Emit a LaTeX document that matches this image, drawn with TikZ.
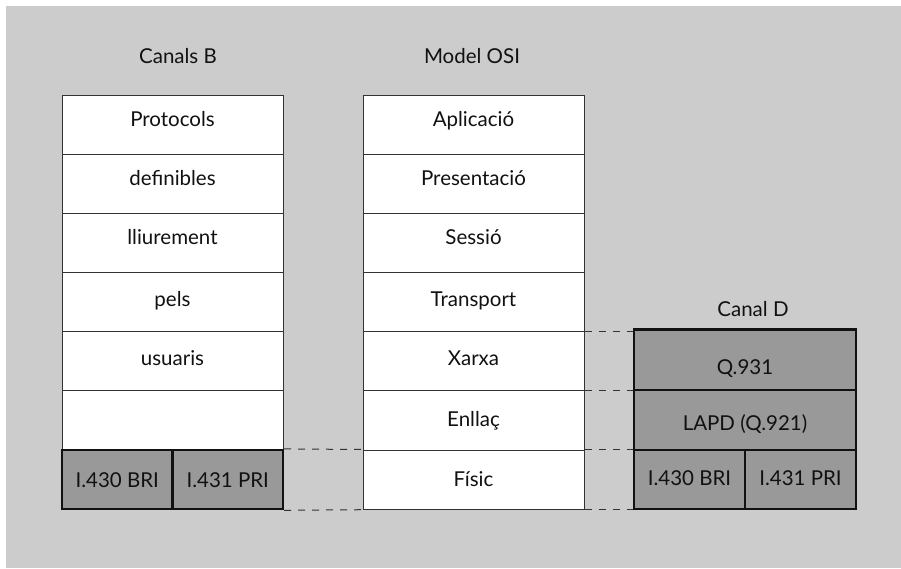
\documentclass[tikz,border=0pt]{standalone}
\usepackage{fontspec}
\setmainfont{Lato}
\usepackage{tikz}
\definecolor{bg}{HTML}{CCCCCC}
\definecolor{prot}{HTML}{999999}
\definecolor{edge}{HTML}{333333}
\definecolor{ink}{HTML}{111111}
\newcommand{\diafont}{\fontsize{20.5}{24}\selectfont}
\tikzset{
  cell/.style={draw=edge, fill=white, line width=1pt, minimum width=221pt, minimum height=59.2pt,
    inner sep=0pt, text height=9pt, text depth=6pt, text=ink, font=\diafont},
  rowmid/.style={text height=11pt, text depth=2pt},
  rowlow/.style={text height=13pt, text depth=0pt},
  half/.style={draw=ink, fill=prot, line width=2.2pt, minimum width=110.5pt, minimum height=59.2pt,
    inner sep=0pt, text height=16pt, text depth=0pt, text=ink, font=\diafont},
  dbox/.style={draw=ink, fill=prot, line width=2.2pt, minimum width=222pt,
    inner sep=0pt, text=ink, font=\diafont},
  title/.style={text=ink, font=\diafont, inner sep=0pt},
  link/.style={draw=edge, line width=1pt, dash pattern=on 7pt off 7pt},
}
\begin{document}
\begin{tikzpicture}[x=1pt,y=-1pt]
  \useasboundingbox (0,0) rectangle (901,568);
  \fill[bg] (6,6) rectangle (901,568);
  % titles
  \node[title] (tb) at (178,56) {Canals B};
  \node[title] (tosi) at (472,56) {Model OSI};
  \node[title] (td) at (753,309) {Canal D};
  % canals B
  \node[cell] (b1) at (172.5,124.6) {Protocols};
  \node[cell] (b2) at (172.5,183.8) {definibles};
  \node[cell] (b3) at (172.5,242.9) {lliurement};
  \node[cell,rowmid] (b4) at (172.5,302.1) {pels};
  \node[cell,rowmid] (b5) at (172.5,361.3) {usuaris};
  \node[cell] (b6) at (172.5,420.4) {};
  \node[half] (bbri) at (117.25,479.6) {I.430 BRI};
  \node[half] (bpri) at (227.75,479.6) {I.431 PRI};
  % model OSI
  \node[cell] (osi1) at (473.5,124.6) {Aplicació};
  \node[cell] (osi2) at (473.5,183.8) {Presentació};
  \node[cell] (osi3) at (473.5,242.9) {Sessió};
  \node[cell,rowmid] (osi4) at (473.5,302.1) {Transport};
  \node[cell,rowmid] (osi5) at (473.5,361.3) {Xarxa};
  \node[cell,rowlow] (osi6) at (473.5,420.4) {Enllaç};
  \node[cell,rowlow] (osi7) at (473.5,479.6) {Físic};
  % canal D
  \node[dbox, minimum height=60.5pt, text height=30pt, text depth=0pt] (q931) at (745,359.7) {Q.931};
  \node[dbox, minimum height=60pt, text height=22pt, text depth=2pt] (lapd) at (745,420) {LAPD (Q.921)};
  \node[half, minimum width=111pt, text height=12pt, text depth=1pt] (dbri) at (689.5,479.6) {I.430 BRI};
  \node[half, minimum width=111pt, text height=12pt, text depth=1pt] (dpri) at (800.5,479.6) {I.431 PRI};
  % correspondence
  \draw[link] (bpri.north east) -- (osi7.north west);
  \draw[link] (bpri.south east) -- (osi7.south west);
  \draw[link] (osi5.north east) -- (osi5.north east -| q931.west);
  \draw[link] (osi6.north east) -- (osi6.north east -| lapd.west);
  \draw[link] (osi7.north east) -- (osi7.north east -| dbri.west);
  \draw[link] (osi7.south east) -- (osi7.south east -| dbri.west);
\end{tikzpicture}
\end{document}
